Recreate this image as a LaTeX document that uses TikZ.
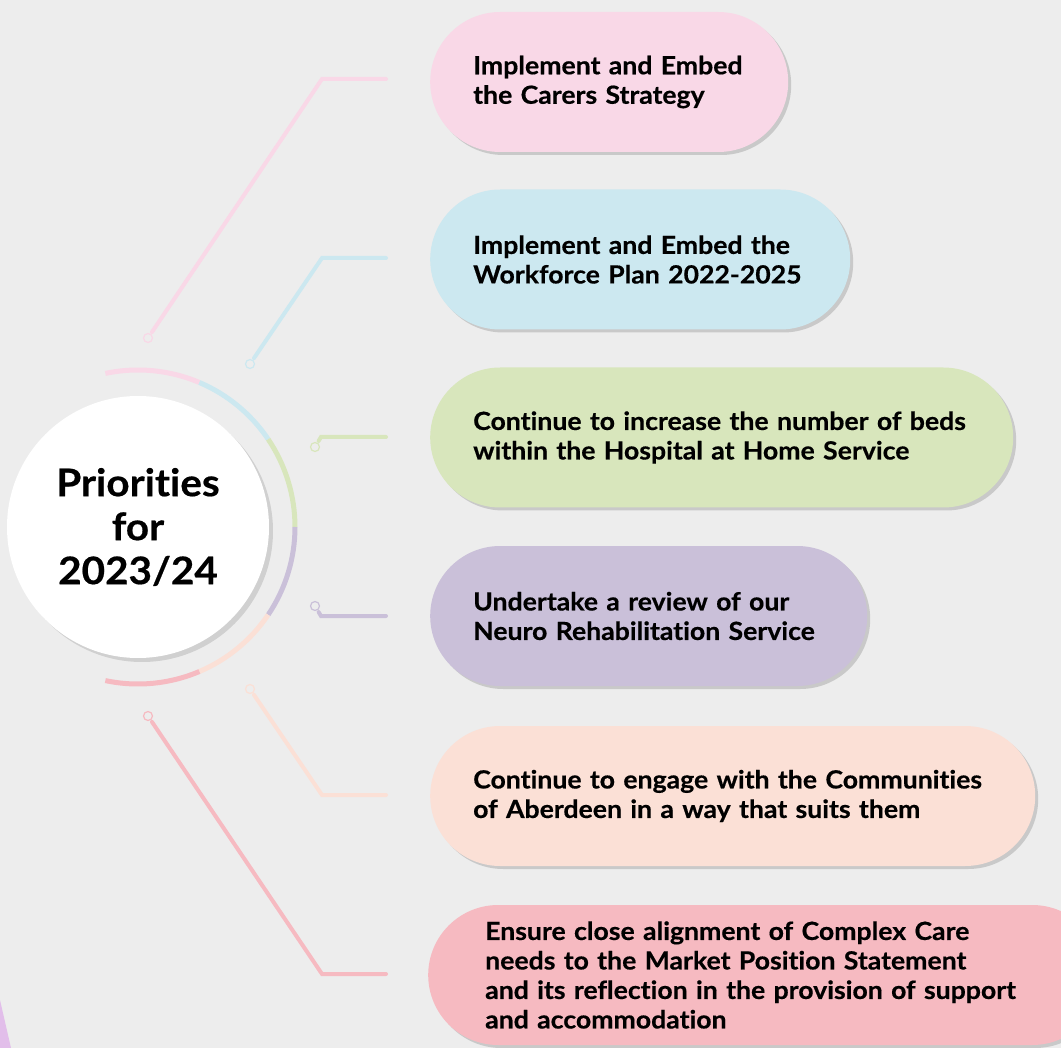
\documentclass[tikz,border=0pt]{standalone}
\usepackage{fontspec}
\setmainfont{Lato}[Ligatures=NoCommon, FakeStretch=1.065, BoldFeatures={FakeBold=0.5}]
\usetikzlibrary{shadows}
\definecolor{bg}{HTML}{EDEDED}
\definecolor{cpink}{HTML}{F9D8E7}
\definecolor{cblue}{HTML}{CCE8F0}
\definecolor{cgreen}{HTML}{D8E6BC}
\definecolor{cpurple}{HTML}{CAC0D9}
\definecolor{cpeach}{HTML}{FBE0D6}
\definecolor{cred}{HTML}{F6BAC1}
\definecolor{cblob}{HTML}{E2BEEA}
\tikzstyle{line} = [draw, line width=4pt, line cap=round, shorten <=2pt]
\tikzstyle{ring} = [draw, line width=5pt]
\tikzstyle{dot} = [circle, line width=1.2pt, fill=bg, minimum size=9pt, inner sep=0pt]
\tikzstyle{pill} = [rectangle, rounded corners=70pt, minimum height=140pt, anchor=west, inner xsep=43pt, align=left,
  font=\bfseries\fontsize{25}{29.5}\selectfont,
  drop shadow={shadow xshift=3pt, shadow yshift=-3pt, opacity=.15, fill=black}]
\tikzstyle{hub} = [circle, fill=white, minimum size=262pt, align=center, font=\bfseries\fontsize{38}{44}\selectfont,
  drop shadow={shadow xshift=4pt, shadow yshift=-4pt, opacity=.12, fill=black}]

\begin{document}
\begin{tikzpicture}[x=1pt, y=-1pt]
        \useasboundingbox (0,0) rectangle (1061,1048);
        \clip (0,0) rectangle (1061,1048);
        \fill[bg] (0,0) rectangle (1061,1048);
        \fill[cblob] (0,1000) -- (11,1048) -- (0,1048) -- cycle;
        % hub and its ring
        \node[hub] (prio) at (138,527) {Priorities\\for\\2023/24};
        \foreach \a/\b/\c in {102/67/cpink, 67/34/cblue, 34/0/cgreen, 0/-34/cpurple, -34/-67/cpeach, -67/-102/cred}
            \draw[ring, \c] ([shift={(\a:157pt)}]prio.center) arc[start angle=\a, end angle=\b, radius=157pt];
        % priorities
        \node[pill, fill=cpink, text width=272pt] (carers) at (430,82) {Implement and Embed\\the Carers Strategy};
        \node[pill, fill=cblue, text width=334pt] (workforce) at (430,259.5) {Implement and Embed the\\Workforce Plan 2022-2025};
        \node[pill, fill=cgreen, text width=497pt] (beds) at (430,437.5) {Continue to increase the number of beds\\within the Hospital at Home Service};
        \node[pill, fill=cpurple, text width=351pt] (neuro) at (430,616) {Undertake a review of our\\Neuro Rehabilitation Service};
        \node[pill, fill=cpeach, text width=519pt] (engage) at (430,796) {Continue to engage with the Communities\\of Aberdeen in a way that suits them};
        \node[pill, fill=cred, text width=560pt, inner xsep=57pt] (complex) at (428,975) {Ensure close alignment of Complex Care\\needs to the Market Position Statement\\and its reflection in the provision of support\\and accommodation};
        % connectors
        \node[dot, draw=cpink] (d1) at (148,338) {};
        \node[dot, draw=cblue] (d2) at (250,364) {};
        \node[dot, draw=cgreen] (d3) at (315,447) {};
        \node[dot, draw=cpurple] (d4) at (315,606) {};
        \node[dot, draw=cpeach] (d5) at (250,689) {};
        \node[dot, draw=cred] (d6) at (148,716) {};
        \coordinate (b1) at (322,79);  \coordinate (e1) at (386,79);
        \coordinate (b2) at (322,258); \coordinate (e2) at (386,258);
        \coordinate (b3) at (321,437); \coordinate (e3) at (386,437);
        \coordinate (b4) at (321,616); \coordinate (e4) at (386,616);
        \coordinate (b5) at (322,795); \coordinate (e5) at (386,795);
        \coordinate (b6) at (322,974); \coordinate (e6) at (386,974);
        \path[line, cpink] (d1) -- (b1) -- (e1);
        \path[line, cblue] (d2) -- (b2) -- (e2);
        \path[line, cgreen] (d3) -- (b3) -- (e3);
        \path[line, cpurple] (d4) -- (b4) -- (e4);
        \path[line, cpeach] (d5) -- (b5) -- (e5);
        \path[line, cred] (d6) -- (b6) -- (e6);
    \end{tikzpicture}
\end{document}
